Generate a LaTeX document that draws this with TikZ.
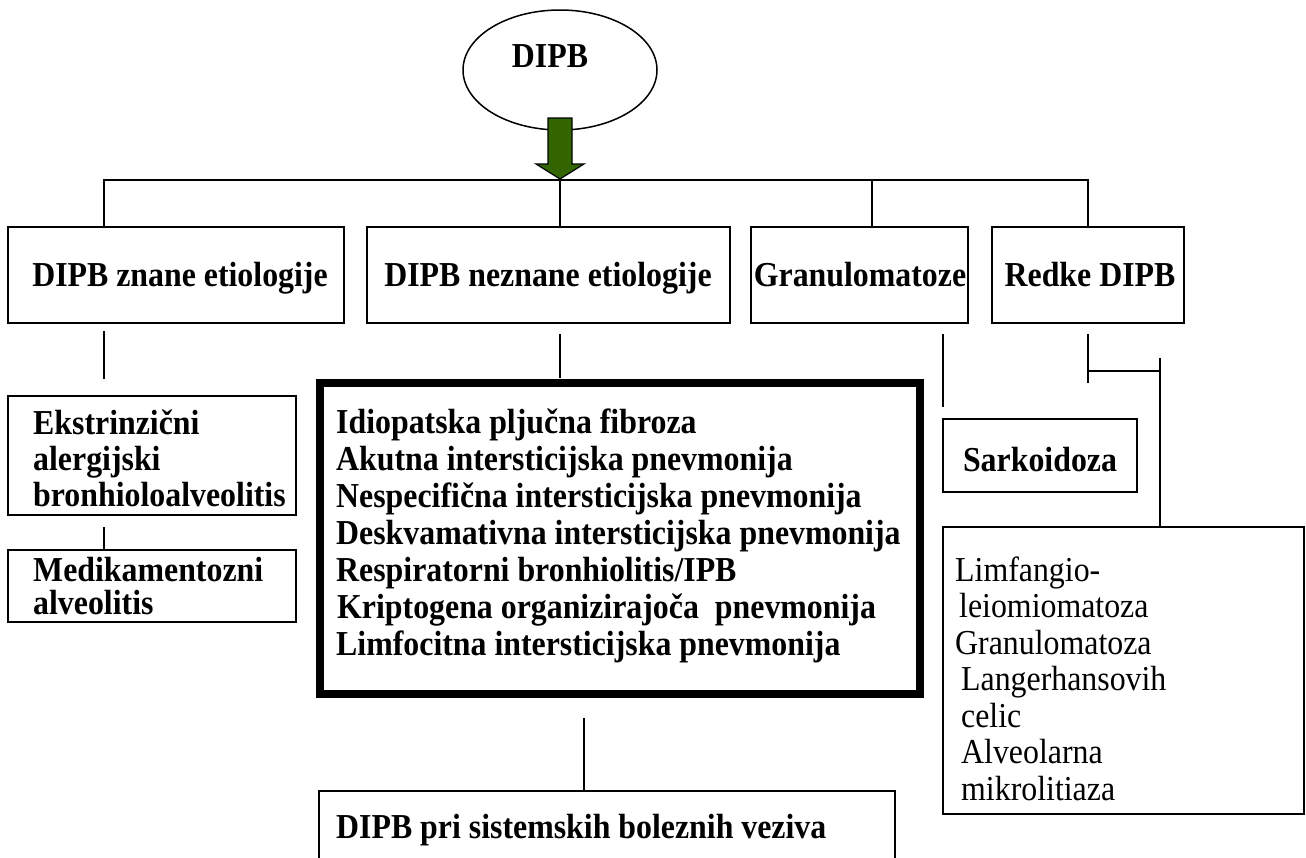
\documentclass[tikz,border=0pt]{standalone}
\usepackage{fontspec}
\setmainfont{Liberation Serif}[FakeStretch=0.91]
\usetikzlibrary{shapes.geometric,calc}
\definecolor{arrowgreen}{HTML}{336600}
\begin{document}
\begin{tikzpicture}[x=1pt,y=-1pt,
  wire/.style={line width=1.5pt},
  box/.style={draw, line width=1.5pt, rectangle, inner sep=0pt, outer sep=0pt, anchor=north west},
  heavybox/.style={draw, line width=7.5pt, rectangle, inner sep=0pt, outer sep=0pt, anchor=north west},
  lbl/.style={inner sep=0pt, font=\fontsize{35}{40}\selectfont\bfseries},
  plain/.style={inner sep=0pt, font=\fontsize{35}{40}\selectfont}]
\useasboundingbox (0,0) rectangle (1306,857);

% root ellipse with the block arrow pointing down to the bus
\node[ellipse, draw, line width=1.5pt, minimum width=194, minimum height=120, inner sep=0pt] (root) at (560,70) {};
\node[lbl, anchor=base] (roottxt) at (550,67) {DIPB};
\filldraw[fill=arrowgreen, draw=black, line width=1.2pt]
  (548,118) -- (572,118) -- (572,164) -- (584,164) -- (560,179) -- (536,164) -- (548,164) -- cycle;

% first level boxes
\node[box, minimum width=336, minimum height=96] (b1) at (8,227) {};
\node[box, minimum width=363, minimum height=96] (b2) at (367,227) {};
\node[box, minimum width=217, minimum height=96] (b3) at (751,227) {};
\node[box, minimum width=192, minimum height=96] (b4) at (992,227) {};
\node[lbl, anchor=base] (t1) at (180,286) {DIPB znane etiologije};
\node[lbl, anchor=base] (t2) at (548,286) {DIPB neznane etiologije};
\node[lbl, anchor=base] (t3) at (860,286) {Granulomatoze};
\node[lbl, anchor=base] (t4) at (1090,286) {Redke DIPB};

% bus
\coordinate (busA) at (104,180);
\coordinate (busB) at (560,180);
\coordinate (busC) at (872,180);
\coordinate (busD) at (1088,180);
\draw[wire] (busA |- b1.north) -- (busA) -- (busD) -- (busD |- b4.north);
\draw[wire] (busB) -- (busB |- b2.north);
\draw[wire] (busC) -- (busC |- b3.north);

% known aetiology branch
\node[box, minimum width=288, minimum height=119] (e1) at (8,396) {};
\node[lbl, anchor=base west] (e1a) at (33,434) {Ekstrinzični};
\node[lbl, anchor=base west] (e1b) at (33,470) {alergijski};
\node[lbl, anchor=base west] (e1c) at (33,506) {bronhioloalveolitis};
\node[box, minimum width=288, minimum height=72] (m1) at (8,550) {};
\node[lbl, anchor=base west] (m1a) at (33,581) {Medikamentozni};
\node[lbl, anchor=base west] (m1b) at (33,614) {alveolitis};
\draw[wire] ($(busA |- b1.south)+(0,8)$) -- ($(busA |- e1.north)+(0,-17)$);
\draw[wire] ($(busA |- e1.south)+(0,12)$) -- (busA |- m1.north);

% unknown aetiology branch
\node[heavybox, minimum width=600, minimum height=311] (idio) at (320,383) {};
\foreach \txt [count=\i] in {Idiopatska pljučna fibroza, Akutna intersticijska pnevmonija,
  Nespecifična intersticijska pnevmonija, Deskvamativna intersticijska pnevmonija,
  Respiratorni bronhiolitis/IPB, {\hspace{1pt}Kriptogena organizirajoča\hspace{8pt} pnevmonija},
  Limfocitna intersticijska pnevmonija}
  \node[lbl, anchor=base west] (idio\i) at (336,{396+37*\i}) {\txt};
\draw[wire] ($(busB |- b2.south)+(0,11)$) -- ($(busB |- idio.north)+(0,-5)$);

\node[box, minimum width=576, minimum height=100] (sys) at (319,791) {};
\node[lbl, anchor=base west] (systxt) at (336,838) {DIPB pri sistemskih boleznih veziva};
\coordinate (sysdrop) at (584,0);
\draw[wire] ($(sysdrop |- idio.south)+(0,24)$) -- (sysdrop |- sys.north);

% granulomatoses branch
\node[box, minimum width=194, minimum height=73] (sark) at (943,419) {};
\node[lbl, anchor=base] (sarktxt) at (1040,471) {Sarkoidoza};
\draw[wire] ($(sark.north west |- b3.south)+(0,11)$) -- ($(sark.north west)+(0,-12)$);

% rare diseases branch
\node[box, minimum width=361, minimum height=287] (rare) at (943,527) {};
\coordinate (rareX) at (1160,358);
\coordinate (rareJ) at (1088,371);
\draw[wire] ($(busD |- b4.south)+(0,11)$) -- ($(busD |- b4.south)+(0,60)$);
\draw[wire] (rareJ) -- (rareJ -| rareX);
\draw[wire] (rareX) -- (rareX |- rare.north);
\node[plain, anchor=base west] (r1) at (955,581) {Limfangio-};
\node[plain, anchor=base west] (r2) at (959,617.5) {leiomiomatoza};
\node[plain, anchor=base west] (r3) at (955,654) {Granulomatoza};
\node[plain, anchor=base west] (r4) at (961,690.5) {Langerhansovih};
\node[plain, anchor=base west] (r5) at (961,727) {celic};
\node[plain, anchor=base west] (r6) at (961,763.5) {Alveolarna};
\node[plain, anchor=base west] (r7) at (961,800) {mikrolitiaza};
\end{tikzpicture}
\end{document}
